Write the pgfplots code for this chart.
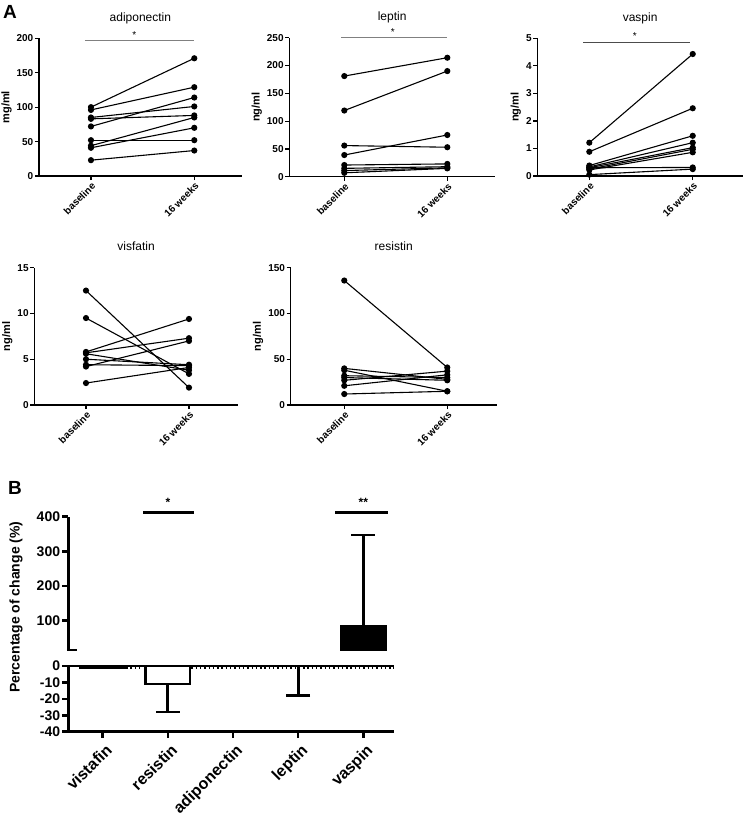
\documentclass[border=0pt]{standalone}
\usepackage{pgfplots}
\pgfplotsset{compat=1.18}
\usepackage{fontspec}
\setmainfont{Liberation Sans}

\pgfplotsset{
  pA/.style={
    scale only axis, ymin=0,
    axis x line*=bottom, axis y line*=left,
    axis line style={line width=1.2pt, -},
    tick style={black, line width=1.2pt},
    tick align=outside, major tick length=4pt,
    xtick={0,1}, xticklabels={baseline,16 weeks},
    x tick label style={rotate=45, anchor=north east, font=\bfseries\fontsize{10}{10}\selectfont, inner sep=1pt},
    y tick label style={font=\bfseries\fontsize{10}{10}\selectfont, inner sep=1.5pt},
    ylabel style={font=\bfseries\fontsize{11}{11}\selectfont},
    title style={font=\fontsize{12}{12}\selectfont, at={(0.5,1)}, anchor=base, yshift=11pt, inner sep=0pt},
    cycle list={black,mark=*,mark size=2.5pt,line width=1.1pt\\},
    clip=false,
    /pgf/number format/assume math mode=true,
  },
  pB/.style={
    scale only axis, width=326pt, xmin=0.472, xmax=5.476,
    axis line style={line width=2.5pt, -},
    tick style={black, line width=2.5pt},
    tick align=outside, major tick length=6pt,
    y tick label style={font=\bfseries\fontsize{14}{14}\selectfont, inner sep=2pt},
    /pgf/number format/assume math mode=true,
    clip mode=individual,
  },
  every error bar/.style={line width=2.8pt, black},
  barB/.style={ybar, bar width=0.68, bar shift=0pt, draw=black, line width=2.5pt},
  errB/.style={black, mark=none, line width=2.8pt,
    error bars/.cd, y dir=#1, y explicit, error bar style={line width=2.8pt},
    error mark options={rotate=90, mark size=12pt, line width=2.8pt}},
}

\begin{document}
\begin{tikzpicture}
\path[use as bounding box] (0pt,0pt) rectangle (750pt,-825pt);

\node[font=\bfseries\fontsize{19}{19}\selectfont] at (10pt,-12pt) {A};

% adiponectin
\begin{axis}[pA, at={(39pt,-176pt)}, anchor=south west, width=202.7pt, height=137.7pt,
  xmin=-0.503, xmax=1.459, ymax=200, ytick={0,50,...,200}, ylabel={mg/ml}, title={adiponectin}]
\addplot coordinates {(0,100) (1,171)};
\addplot coordinates {(0,96) (1,129)};
\addplot coordinates {(0,85) (1,101)};
\addplot coordinates {(0,83) (1,88)};
\addplot coordinates {(0,72) (1,114)};
\addplot coordinates {(0,52) (1,52)};
\addplot coordinates {(0,44) (1,85)};
\addplot coordinates {(0,41) (1,70)};
\addplot coordinates {(0,23) (1,37)};
\draw[gray, line width=0.8pt] (axis cs:-0.06,196.5) -- (axis cs:1.0,196.5);
\node[anchor=base, font=\fontsize{10}{10}\selectfont, inner sep=0pt] at (axis cs:0.42,200) {*};
\end{axis}

% leptin
\begin{axis}[pA, at={(289.3pt,-176.7pt)}, anchor=south west, width=205.7pt, height=139pt,
  xmin=-0.534, xmax=1.463, ymax=250, ytick={0,50,...,250}, ylabel={ng/ml}, title={leptin}]
\addplot coordinates {(0,181) (1,214)};
\addplot coordinates {(0,119) (1,190)};
\addplot coordinates {(0,56) (1,53)};
\addplot coordinates {(0,39) (1,75)};
\addplot coordinates {(0,21) (1,23)};
\addplot coordinates {(0,15) (1,18)};
\addplot coordinates {(0,11) (1,16)};
\addplot coordinates {(0,7) (1,15)};
\draw[gray, line width=0.8pt] (axis cs:-0.03,250) -- (axis cs:1.0,250);
\node[anchor=base, font=\fontsize{10}{10}\selectfont, inner sep=0pt] at (axis cs:0.47,254) {*};
\end{axis}

% vaspin
\begin{axis}[pA, at={(537.3pt,-176pt)}, anchor=south west, width=205.7pt, height=137.7pt,
  xmin=-0.503, xmax=1.486, ymax=5, ytick={0,1,...,5}, ylabel={ng/ml}, title={vaspin}]
\addplot coordinates {(0,1.21) (1,4.43)};
\addplot coordinates {(0,0.88) (1,2.46)};
\addplot coordinates {(0,0.38) (1,1.46)};
\addplot coordinates {(0,0.33) (1,1.21)};
\addplot coordinates {(0,0.30) (1,1.03)};
\addplot coordinates {(0,0.25) (1,0.97)};
\addplot coordinates {(0,0.22) (1,0.86)};
\addplot coordinates {(0,0.30) (1,0.31)};
\addplot coordinates {(0,0.05) (1,0.25)};
\draw[black!70, line width=0.7pt] (axis cs:-0.06,4.85) -- (axis cs:0.97,4.85);
\node[anchor=base, font=\fontsize{10}{10}\selectfont, inner sep=0pt] at (axis cs:0.44,4.95) {*};
\end{axis}

% visfatin
\begin{axis}[pA, at={(34.3pt,-405pt)}, anchor=south west, width=203.7pt, height=137.3pt,
  xmin=-0.502, xmax=1.476, ymax=15, ytick={0,5,10,15}, ylabel={ng/ml}, title={visfatin}]
\addplot coordinates {(0,12.5) (1,1.9)};
\addplot coordinates {(0,9.5) (1,3.4)};
\addplot coordinates {(0,5.8) (1,9.4)};
\addplot coordinates {(0,5.7) (1,7.3)};
\addplot coordinates {(0,4.2) (1,7.0)};
\addplot coordinates {(0,5.0) (1,4.4)};
\addplot coordinates {(0,4.4) (1,4.3)};
\addplot coordinates {(0,5.6) (1,3.8)};
\addplot coordinates {(0,2.4) (1,4.1)};
\end{axis}

% resistin
\begin{axis}[pA, at={(290.7pt,-405pt)}, anchor=south west, width=206pt, height=137.3pt,
  xmin=-0.52, xmax=1.48, ymax=150, ytick={0,50,100,150}, ylabel={ng/ml}, title={resistin}]
\addplot coordinates {(0,136) (1,41)};
\addplot coordinates {(0,40) (1,28)};
\addplot coordinates {(0,38) (1,15)};
\addplot coordinates {(0,32) (1,30)};
\addplot coordinates {(0,30) (1,27)};
\addplot coordinates {(0,27) (1,37)};
\addplot coordinates {(0,21) (1,33)};
\addplot coordinates {(0,12) (1,15)};
\end{axis}

% Panel B
\node[font=\bfseries\fontsize{19}{19}\selectfont] at (15pt,-488pt) {B};
\node[rotate=90, font=\bfseries\fontsize{14}{14}\selectfont] at (16pt,-607pt) {Percentage of change (\%)};

% upper segment
\begin{axis}[pB, at={(68.3pt,-650pt)}, anchor=south west, height=133.3pt,
  ymin=15, ymax=400, axis x line=none, axis y line*=left, ytick={100,200,300,400}]
\addplot[barB, fill=black] coordinates {(5,82.5)};
\addplot[errB=plus] coordinates {(5,82.5) += (0,264.5)};
\draw[line width=2.5pt] (axis cs:0.45,15) -- (axis cs:0.60,15);
\draw[line width=2.3pt] (axis cs:1.62,412) -- (axis cs:2.40,412);
\draw[line width=2.3pt] (axis cs:4.57,412) -- (axis cs:5.38,412);
\node[anchor=base, font=\bfseries\fontsize{12}{12}\selectfont, inner sep=0pt] at ([yshift=6pt]axis cs:2.0,412) {*};
\node[anchor=base, font=\bfseries\fontsize{12}{12}\selectfont, inner sep=0pt] at ([yshift=6pt]axis cs:5.0,412) {**};
\end{axis}

% lower segment
\begin{axis}[pB, at={(68.3pt,-731.7pt)}, anchor=south west, height=65.7pt,
  ymin=-40, ymax=0, axis x line=box, axis y line*=left, xtick pos=bottom, ytick={-40,-30,...,0},
  xtick={1,...,5}, xticklabels={vistafin,resistin,adiponectin,leptin,vaspin},
  x tick label style={rotate=45, anchor=north east, font=\bfseries\fontsize{16}{16}\selectfont, inner sep=2pt, yshift=-3pt}]
\draw[line width=1.6pt, dash pattern=on 1.4pt off 2.9pt] ([yshift=-2.2pt]axis cs:1.36,0) -- ([yshift=-2.2pt]axis cs:1.62,0);
\draw[line width=1.6pt, dash pattern=on 1.4pt off 2.9pt] ([yshift=-2.2pt]axis cs:2.36,0) -- ([yshift=-2.2pt]axis cs:5.476,0);
\addplot[barB, fill=black] coordinates {(1,-1)};
\addplot[barB, fill=white] coordinates {(2,-11) (3,0) (4,0)};
\addplot[errB=minus] coordinates {(2,-11) -= (0,17)};
\addplot[errB=minus] coordinates {(4,0) -= (0,18)};
\end{axis}
\draw[line width=2.2pt] (68.3pt,-666pt) -- (394.3pt,-666pt);
\end{tikzpicture}
\end{document}
